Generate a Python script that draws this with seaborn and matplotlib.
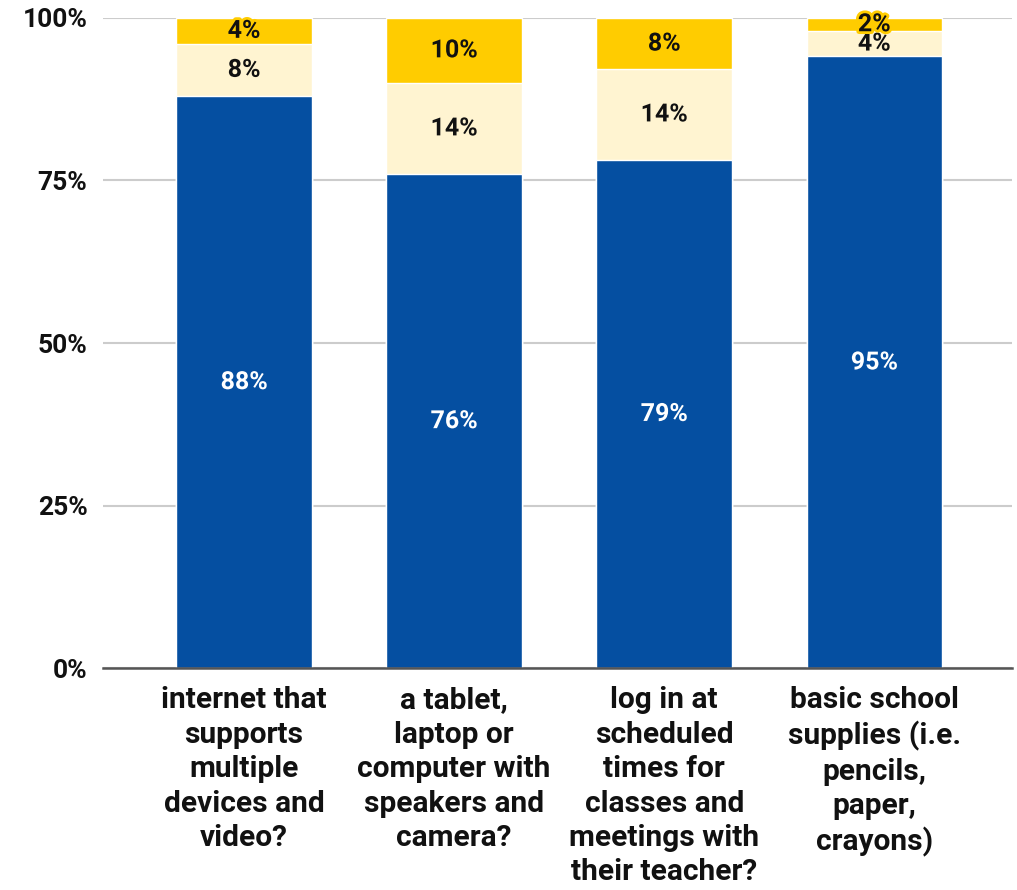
import numpy as np
import pandas as pd
import seaborn as sns
import matplotlib.pyplot as plt
import matplotlib.patheffects as pe

categories = ["internet that\nsupports\nmultiple\ndevices and\nvideo?",
              "a tablet,\nlaptop or\ncomputer with\nspeakers and\ncamera?",
              "log in at\nscheduled\ntimes for\nclasses and\nmeetings with\ntheir teacher?",
              "basic school\nsupplies (i.e.\npencils,\npaper,\ncrayons)"]
yes_pct = [88, 76, 79, 95]
some_pct = [8, 14, 14, 4]
no_pct = [4, 10, 8, 2]

blue = "#054fa1"
light = "#fff4d1"
gold = "#ffcc00"

sns.set_theme(style="white")
plt.rcParams['font.family'] = ['Roboto', 'DejaVu Sans']
plt.rcParams['font.weight'] = 'bold'

df = pd.DataFrame({"cat": categories, "yes": yes_pct, "some": some_pct, "no": no_pct})
total = df[["yes", "some", "no"]].sum(axis=1)
# stacked to 100%
df["yes_n"] = df["yes"] / total * 100
df["some_n"] = df["some"] / total * 100
df["no_n"] = df["no"] / total * 100
df["lvl1"] = df["yes_n"]
df["lvl2"] = df["yes_n"] + df["some_n"]
df["lvl3"] = df["lvl2"] + df["no_n"]

fig = plt.figure(figsize=(10.17, 8.90), dpi=100)
ax = fig.add_axes([0.101, 0.249, 0.894, 0.731])

w = 0.645
sns.barplot(data=df, x="cat", y="lvl3", color=gold, width=w, saturation=1, ax=ax, zorder=2)
sns.barplot(data=df, x="cat", y="lvl2", color=light, width=w, saturation=1, ax=ax, zorder=2)
sns.barplot(data=df, x="cat", y="lvl1", color=blue, width=w, saturation=1, ax=ax, zorder=2)

for i, row in df.iterrows():
    segs = [(row["yes_n"] / 2, row["yes"], "white", blue),
            (row["lvl1"] + row["some_n"] / 2, row["some"], "#111111", light),
            (row["lvl2"] + row["no_n"] / 2, row["no"], "#111111", gold)]
    for y, v, c, bg in segs:
        ax.text(i, y, f"{v:.0f}%", ha="center", va="center", color=c,
                fontsize=18, fontweight="bold", zorder=5,
                path_effects=[pe.withStroke(linewidth=4, foreground=bg)])

ax.set_ylim(0, 100)
ax.set_xlim(-0.673, 3.655)
ax.set_yticks([0, 25, 50, 75, 100])
ax.set_yticklabels([f"{t}%" for t in [0, 25, 50, 75, 100]])
ax.yaxis.grid(True, color="#cccccc", linewidth=1.5, zorder=0)
ax.set_axisbelow(True)
for s in ["top", "right", "left"]:
    ax.spines[s].set_visible(False)
ax.spines["bottom"].set_color("#555555")
ax.spines["bottom"].set_linewidth(1.8)
ax.spines["bottom"].set_zorder(3)
ax.tick_params(axis="y", length=0, pad=11, labelsize=19, labelcolor="#111111")
ax.tick_params(axis="x", length=0, pad=13, labelsize=21.5, labelcolor="#111111")
for lab in ax.get_xticklabels():
    lab.set_linespacing(1.29)
    lab.set_fontweight("bold")
for lab in ax.get_yticklabels():
    lab.set_fontweight("bold")
ax.set_xlabel("")
ax.set_ylabel("")

fig.savefig("out.png", dpi=100)
